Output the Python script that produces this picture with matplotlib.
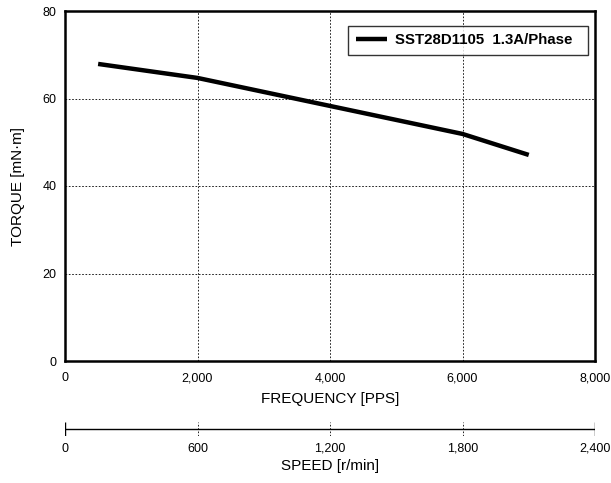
import matplotlib
matplotlib.use("Agg")
import matplotlib.pyplot as plt

plt.rcParams['font.family'] = ['Liberation Sans', 'DejaVu Sans']

freq = [500, 2000, 4000, 6000, 7000]
torque = [67.9, 64.7, 58.3, 51.9, 47.1]
freq_ticks = [0, 2000, 4000, 6000, 8000]
freq_labels = ["0", "2,000", "4,000", "6,000", "8,000"]
torque_ticks = [0, 20, 40, 60, 80]
speed_ticks = [0, 600, 1200, 1800, 2400]
speed_labels = ["0", "600", "1,200", "1,800", "2,400"]
series_label = "SST28D1105  1.3A/Phase"

W, H = 611, 483
fig = plt.figure(figsize=(W/100, H/100), dpi=100)
ax = fig.add_axes([65/W, 1-361/H, (595-65)/W, (361-11)/H])
ax.plot(freq, torque, color='black', lw=3.2, solid_capstyle='butt', label=series_label + "  ")
ax.set_xlim(0, 8000)
ax.set_ylim(0, 80)
ax.set_xticks(freq_ticks)
ax.set_xticklabels(freq_labels)
ax.set_yticks(torque_ticks)
ax.tick_params(axis='x', length=0, labelsize=9, pad=8)
ax.tick_params(axis='y', length=0, labelsize=9, pad=6)
ax.grid(True, color='black', ls=(0, (2, 2)), lw=0.6)
for s in ax.spines.values():
    s.set_linewidth(1.8)
ax.set_xlabel("FREQUENCY [PPS]", fontsize=11, labelpad=6)
ax.set_ylabel("TORQUE [mN·m]", fontsize=11, labelpad=13)
leg = ax.legend(loc='upper right', prop={'weight': 'bold', 'size': 10.8},
                frameon=True, fancybox=False, edgecolor='black', handlelength=2.1,
                handletextpad=0.5, borderpad=0.5, borderaxespad=0,
                bbox_to_anchor=((588-65)/530, (361-26)/350))
leg.get_frame().set_linewidth(1.0)

ax2 = fig.add_axes([65/W, 1-436/H, (595-65)/W, 14/H])
ax2.set_xlim(0, 2400)
ax2.set_ylim(-1, 1)
ax2.axhline(0, color='black', lw=1.0)
ax2.vlines([speed_ticks[0], speed_ticks[-1]], -1, 1, color='black', lw=1.0)
ax2.vlines(speed_ticks[1:-1], -1, 1, color='black', lw=0.6, ls=(0, (2, 2)))
for s in ax2.spines.values():
    s.set_visible(False)
ax2.set_yticks([])
ax2.set_xticks(speed_ticks)
ax2.set_xticklabels(speed_labels)
ax2.tick_params(length=0, labelsize=9, pad=5)
ax2.set_xlabel("SPEED [r/min]", fontsize=11, labelpad=3)
ax2.patch.set_visible(False)

fig.savefig("out.png", dpi=100)
